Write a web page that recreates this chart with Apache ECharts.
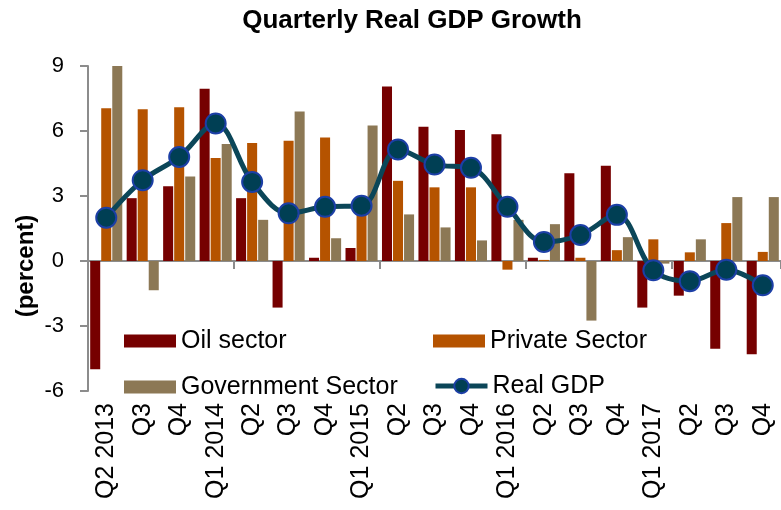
<!DOCTYPE html>
<html>
<head>
<meta charset="utf-8">
<script src="https://cdn.jsdelivr.net/npm/echarts@6/dist/echarts.min.js"></script>
<style>
html,body{margin:0;padding:0;background:#fff;}
#chart{width:781px;height:510px;}
</style>
</head>
<body>
<div id="chart"></div>
<script>
var categories = ['Q2 2013','Q3','Q4','Q1 2014','Q2','Q3','Q4','Q1 2015','Q2','Q3','Q4','Q1 2016','Q2','Q3','Q4','Q1 2017','Q2','Q3','Q4'];
var oilSector = [-5.0, 2.9, 3.45, 7.95, 2.9, -2.15, 0.15, 0.6, 8.05, 6.2, 6.05, 5.85, 0.15, 4.05, 4.4, -2.15, -1.6, -4.05, -4.3];
var privateSector = [7.05, 7.0, 7.1, 4.75, 5.45, 5.55, 5.7, 3.0, 3.7, 3.4, 3.4, -0.4, 0.05, 0.15, 0.5, 1.0, 0.4, 1.75, 0.42];
var governmentSector = [9.0, -1.35, 3.9, 5.4, 1.9, 6.9, 1.05, 6.25, 2.15, 1.55, 0.95, 1.9, 1.7, -2.75, 1.1, -0.12, 1.0, 2.95, 2.95];
var realGDP = [2.0, 3.73, 4.8, 6.35, 3.65, 2.2, 2.5, 2.55, 5.15, 4.45, 4.3, 2.5, 0.88, 1.2, 2.13, -0.43, -0.93, -0.4, -1.12];
var yTicks = {min: -6, max: 9, interval: 3};

var FONT = '"Liberation Sans", Arial, sans-serif';
var AXIS = '#8c8c8c';
var chart = echarts.init(document.getElementById('chart'));

function legendAt(name, left, top) {
  var isLine = name === 'Real GDP';
  var l = {
    data: [name], left: left, top: top, padding: 0,
    itemWidth: 52, itemHeight: isLine ? 18 : 13, icon: isLine ? undefined : 'rect',
    textStyle: {fontFamily: FONT, fontSize: 25, color: '#000', lineHeight: 26},
    selectedMode: false
  };
  if (isLine) { l.lineStyle = {width: 5}; l.top = top - 1; }
  return l;
}

chart.setOption({
  animation: false,
  backgroundColor: '#fff',
  title: {
    text: 'Quarterly Real GDP Growth', left: 407, top: 3, textAlign: 'center',
    textStyle: {fontFamily: FONT, fontSize: 26, fontWeight: 'bold', color: '#000'}
  },
  graphic: [{
    type: 'text', x: 26, y: 266, rotation: Math.PI / 2,
    style: {text: '(percent)', fontFamily: FONT, fontSize: 24, fontWeight: 'bold',
            fill: '#000', textAlign: 'center', textVerticalAlign: 'middle'}
  }],
  legend: [
    legendAt('Oil sector', 124, 328),
    legendAt('Private Sector', 433, 328),
    legendAt('Government Sector', 124, 374),
    legendAt('Real GDP', 433, 374)
  ],
  grid: {left: 88, right: 0, top: 66, bottom: 119, containLabel: false},
  xAxis: [{
    type: 'category', data: categories, position: 'bottom',
    axisLine: {show: false, onZero: false},
    axisTick: {show: false},
    axisLabel: {rotate: 90, margin: 12, interval: 0, fontFamily: FONT, fontSize: 25, color: '#000'}
  }, {
    type: 'category', data: categories, position: 'bottom',
    axisLine: {show: true, onZero: true, lineStyle: {color: AXIS, width: 2}},
    axisTick: {show: true, length: 8, interval: function (i) { return i > 0 && i % 4 === 0; },
               lineStyle: {color: AXIS, width: 2}},
    axisLabel: {show: false}
  }],
  yAxis: {
    type: 'value', min: yTicks.min, max: yTicks.max, interval: yTicks.interval,
    axisLine: {show: true, lineStyle: {color: AXIS, width: 2}},
    axisTick: {show: true, length: 8, lineStyle: {color: AXIS, width: 2}},
    splitLine: {show: false},
    axisLabel: {margin: 24, fontFamily: FONT, fontSize: 22, color: '#000'}
  },
  series: [
    {name: 'Oil sector', type: 'bar', data: oilSector, barGap: '10%', barCategoryGap: '12%',
     itemStyle: {color: '#760000'}},
    {name: 'Private Sector', type: 'bar', data: privateSector,
     itemStyle: {color: '#b55300'}},
    {name: 'Government Sector', type: 'bar', data: governmentSector,
     itemStyle: {color: '#8c7855'}},
    {name: 'Real GDP', type: 'line', data: realGDP, smooth: 0.35, z: 5,
     symbol: 'circle', symbolSize: 20,
     lineStyle: {color: '#0b4658', width: 5},
     itemStyle: {color: '#003f54', borderColor: '#1c3fa6', borderWidth: 2}}
  ]
});
</script>
</body>
</html>
